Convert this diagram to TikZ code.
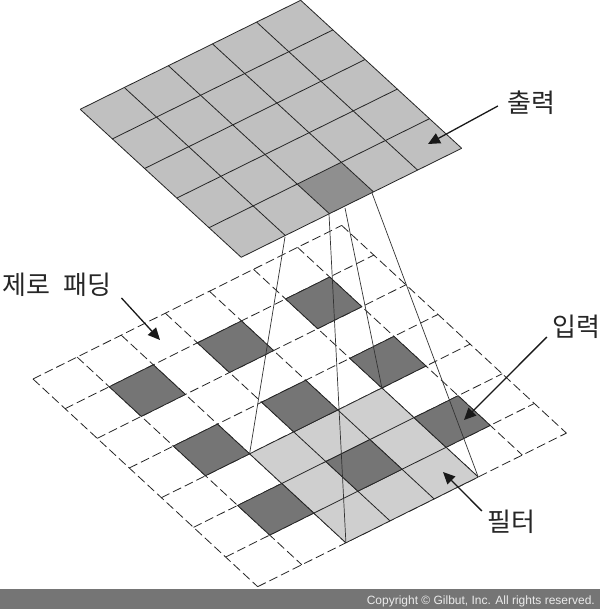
\documentclass[tikz,border=0pt]{standalone}
\usepackage{fontspec}
\setmainfont{Liberation Sans}
\newfontfamily\krfont{Noto Sans CJK KR}
\usetikzlibrary{arrows.meta}
\definecolor{platecol}{HTML}{C0C0C0}
\definecolor{hitcol}{HTML}{8F8F8F}
\definecolor{darkcol}{HTML}{757575}
\definecolor{filtercol}{HTML}{CFCFCF}
\tikzset{
  gridline/.style={line width=.8pt, color=black!85},
  dashline/.style={gridline, dash pattern=on 9pt off 4pt},
  ray/.style={line width=.7pt, color=black!80},
  pointer/.style={line width=1.3pt, color=black!90, -{Triangle[length=12pt,width=11pt]}},
  krlabel/.style={inner sep=0pt, font=\krfont\fontsize{26}{26}\selectfont, color=black!85}
}
\begin{document}
\begin{tikzpicture}[x=1pt, y=-1pt]
    \useasboundingbox (0,0) rectangle (600,609);
    \fill[white] (0,0) rectangle (600,609);

    % Input grid
    \begin{scope}[shift={(33,379)}, x={(32.1pt,-29.67pt)}, y={(44.1pt,21.94pt)}]
        \foreach \k in {0,...,7} {
            \draw[dashline] (\k,0) -- (\k,7);
            \draw[dashline] (0,\k) -- (7,\k);
        }

        % Filter window
        \fill[filtercol] (4,2) -- (7,2) -- (7,5) -- (4,5) -- cycle;
        \foreach \k in {0,...,3} {
            \draw[gridline] (4+\k,2) -- (4+\k,5);
            \draw[gridline] (4,2+\k) -- (7,2+\k);
        }

        % Dark cells
        \foreach \a in {1,3,5}
            \foreach \b in {1,3,5}
                \draw[gridline, fill=darkcol] (\a,\b) -- (\a+1,\b) -- (\a+1,\b+1) -- (\a,\b+1) -- cycle;

        \coordinate (filter a) at (4,2);
        \coordinate (filter b) at (7,2);
        \coordinate (filter c) at (4,5);
        \coordinate (filter d) at (7,5);
    \end{scope}

    % Output plate
    \begin{scope}[shift={(300.7,0.3)}, x={(32.2pt,-29.6pt)}, y={(-44.1pt,-21.8pt)}]
        \fill[platecol] (0,0) -- (5,0) -- (5,5) -- (0,5) -- cycle;
        \fill[hitcol] (4,2) -- (5,2) -- (5,3) -- (4,3) -- cycle;
        \foreach \k in {0,...,5} {
            \draw[gridline] (\k,0) -- (\k,5);
            \draw[gridline] (0,\k) -- (5,\k);
        }
    \end{scope}

    % Rays between the two planes
    \coordinate (ray a) at (285,237);
    \coordinate (ray b) at (329,214);
    \coordinate (ray c) at (345,208);
    \coordinate (ray d) at (372,193);
    \draw[ray] (ray a) -- (filter a);
    \draw[ray] (ray b) -- (filter b);
    \draw[ray] (ray c) -- (filter c);
    \draw[ray] (ray d) -- (filter d);

    % Labels
    \node[krlabel] (out label) at (531,103) {출력};
    \node[krlabel] (pad label) at (57,285) {제로\hspace{7pt} 패딩};
    \node[krlabel] (in label) at (576,327) {입력};
    \node[krlabel] (filter label) at (511,522) {필터};

    \coordinate (out tip) at (428,144);
    \coordinate (pad tip) at (160,340);
    \coordinate (in tip) at (464,420);
    \coordinate (filter tip) at (443,472);
    \draw[pointer] ([xshift=-9pt,yshift=-3pt]out label.west) -- (out tip);
    \draw[pointer] ([xshift=10pt,yshift=-1pt]pad label.south east) -- (pad tip);
    \draw[pointer] ([xshift=-5pt,yshift=2pt]in label.south west) -- (in tip);
    \draw[pointer] ([xshift=-5pt,yshift=11pt]filter label.west) -- (filter tip);

    % Footer
    \fill[darkcol] (0,589) rectangle (600,609);
    \node[anchor=east, inner sep=0pt, text=white!92!black, font=\fontsize{12}{14}\selectfont] (copy note) at (595,601) {Copyright © Gilbut, Inc. All rights reserved.};
\end{tikzpicture}
\end{document}
